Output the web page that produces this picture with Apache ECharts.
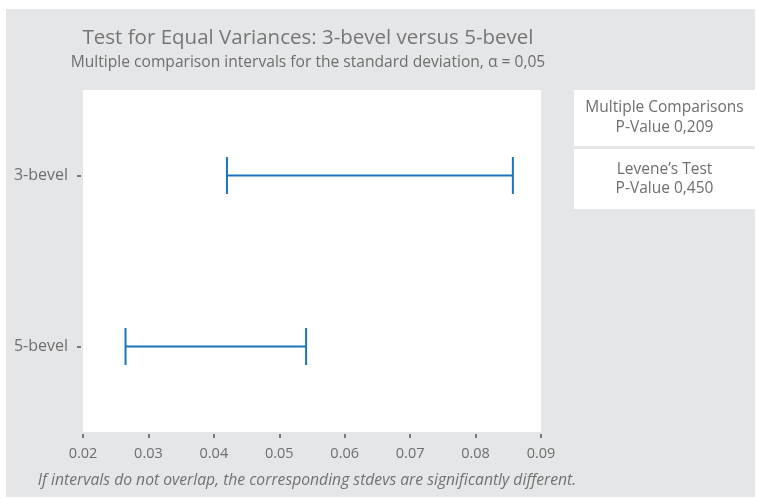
<!DOCTYPE html>
<html>
<head>
<meta charset="utf-8">
<script src="https://cdn.jsdelivr.net/npm/echarts@6/dist/echarts.min.js"></script>
<style>
html,body{margin:0;padding:0;background:#fff;}
#wrap{position:relative;width:757px;height:499px;}
#bg{position:absolute;left:6px;top:9px;width:749px;height:488px;background:#e5e6e8;}
#chart{position:absolute;left:0;top:0;width:757px;height:499px;}
</style>
</head>
<body>
<div id="wrap"><div id="bg"></div><div id="chart"></div></div>
<script>
const categories = ['3-bevel', '5-bevel'];
const lowerBounds = [0.0420, 0.0265];
const upperBounds = [0.0857, 0.0541];
const xTicks = [0.02, 0.03, 0.04, 0.05, 0.06, 0.07, 0.08, 0.09];
const titleText = 'Test for Equal Variances: 3-bevel versus 5-bevel';
const subtitleText = 'Multiple comparison intervals for the standard deviation, \u03b1 = 0,05';
const footnoteText = 'If intervals do not overlap, the corresponding stdevs are significantly different.';
const box1Lines = ['Multiple Comparisons', 'P-Value 0,209'];
const box2Lines = ['Levene\u2019s Test', 'P-Value 0,450'];

const FONT = '"Open Sans", "Noto Sans", sans-serif';
const BLUE = '#1a74b9';
const TXT = '#6e6e6e';

const intervalData = categories.map((c, i) => [i, lowerBounds[i], upperBounds[i]]);

const chart = echarts.init(document.getElementById('chart'), null, {renderer: 'canvas'});
chart.setOption({
  backgroundColor: 'transparent',
  animation: false,
  title: [{
    text: titleText,
    left: 303, top: 23, textAlign: 'center',
    textStyle: {fontFamily: FONT, fontSize: 20.5, fontWeight: 'normal', color: '#767676'}
  }, {
    text: subtitleText,
    left: 303, top: 50, textAlign: 'center',
    textStyle: {fontFamily: FONT, fontSize: 15.6, fontWeight: 'normal', color: '#6e6e6e'}
  }, {
    text: footnoteText,
    left: 302, top: 468, textAlign: 'center',
    textStyle: {fontFamily: FONT, fontSize: 15.7, fontStyle: 'italic', fontWeight: 'normal', color: '#727272'}
  }],
  grid: {left: 83, right: 216, top: 90, bottom: 67, show: true, backgroundColor: '#fff', borderWidth: 0},
  xAxis: {
    type: 'value', min: 0.02, max: 0.09, interval: 0.01,
    offset: 2,
    axisLine: {show: false},
    axisTick: {show: true, length: 4, lineStyle: {color: '#555', width: 1.5}},
    splitLine: {show: false},
    axisLabel: {
      margin: 12, fontFamily: FONT, fontSize: 14.5, color: TXT,
      formatter: v => { const t = xTicks.find(x => Math.abs(x - v) < 1e-9); return t !== undefined ? t.toFixed(2) : ''; }
    }
  },
  yAxis: {
    type: 'category', data: categories, inverse: true,
    offset: 2,
    axisLine: {show: false},
    axisTick: {show: true, alignWithLabel: true, length: 4, lineStyle: {color: '#555', width: 1.5}},
    splitLine: {show: false},
    axisLabel: {margin: 13, fontFamily: FONT, fontSize: 16, color: TXT}
  },
  series: [{
    type: 'custom',
    data: intervalData,
    encode: {x: [1, 2], y: 0},
    renderItem: function (params, api) {
      const cat = api.value(0);
      const p1 = api.coord([api.value(1), cat]);
      const p2 = api.coord([api.value(2), cat]);
      const band = api.size([0, 1])[1];
      const h = band * 0.108;
      const style = {stroke: BLUE, lineWidth: 2, fill: null};
      return {
        type: 'group',
        children: [
          {type: 'line', shape: {x1: p1[0], y1: p1[1], x2: p2[0], y2: p2[1]}, style: style},
          {type: 'line', shape: {x1: p1[0], y1: p1[1] - h, x2: p1[0], y2: p1[1] + h}, style: style},
          {type: 'line', shape: {x1: p2[0], y1: p2[1] - h, x2: p2[0], y2: p2[1] + h}, style: style}
        ]
      };
    }
  }],
  graphic: [
    {type: 'rect', left: 574, top: 90, shape: {width: 181, height: 56}, style: {fill: '#fff'}},
    {type: 'rect', left: 574, top: 149, shape: {width: 181, height: 60}, style: {fill: '#fff'}},
    {type: 'text', x: 664.5, y: 108, style: {text: box1Lines[0], fill: TXT, font: '15.5px ' + FONT, textAlign: 'center', textVerticalAlign: 'middle'}},
    {type: 'text', x: 664.5, y: 128, style: {text: box1Lines[1], fill: TXT, font: '15.5px ' + FONT, textAlign: 'center', textVerticalAlign: 'middle'}},
    {type: 'text', x: 664.5, y: 170, style: {text: box2Lines[0], fill: TXT, font: '15.5px ' + FONT, textAlign: 'center', textVerticalAlign: 'middle'}},
    {type: 'text', x: 664.5, y: 189, style: {text: box2Lines[1], fill: TXT, font: '15.5px ' + FONT, textAlign: 'center', textVerticalAlign: 'middle'}}
  ]
});
</script>
</body>
</html>
